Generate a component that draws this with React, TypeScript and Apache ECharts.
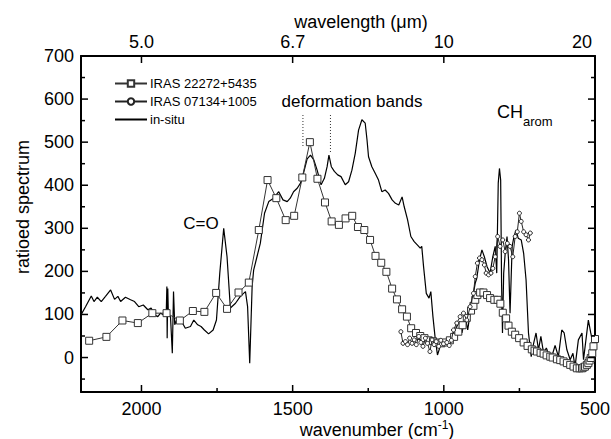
import React, { useEffect, useRef } from "react";
import * as echarts from "echarts";

const FONT = "'Liberation Sans', Arial, sans-serif";

// IRAS 22272+5435 (squares)
const sqWn = [2173, 2116, 2063, 2012, 1964, 1917, 1873, 1830, 1792, 1753, 1717, 1679, 1645, 1612, 1583, 1554, 1523, 1495, 1468, 1443, 1418, 1393, 1371, 1347, 1325, 1303, 1284, 1263, 1244, 1226, 1207, 1190, 1171, 1155, 1138, 1122, 1108, 1092, 1078, 1064, 1050, 1036, 1022, 1008, 994, 980, 966, 952, 938, 924, 910, 902, 896, 889, 880, 869, 857, 847, 833, 822, 813, 805, 794, 786, 775, 764, 751, 736, 723, 709, 700, 692, 680, 670, 660, 648, 640, 626, 615, 604, 593, 582, 571, 560, 551, 543, 538, 533, 527, 522, 518, 514, 509, 505, 500];
const sqVal = [39, 48, 86, 80, 103, 103, 86, 108, 106, 150, 113, 151, 174, 296, 412, 370, 319, 329, 418, 500, 415, 360, 316, 308, 323, 329, 303, 296, 273, 236, 220, 199, 160, 135, 112, 95, 68, 57, 50, 45, 40, 38, 35, 33, 35, 40, 48, 60, 75, 92, 109, 120, 134, 145, 151, 151, 145, 138, 134, 134, 125, 104, 91, 74, 60, 53, 45, 35, 27, 19, 16, 14, 11, 9, 5, 2, 0, -4, -6, -9, -13, -17, -21, -25, -25, -25, -23, -21, -17, -13, -7, -1, 10, 26, 43];

// IRAS 07134+1005 (circles)
const ciWn = [1142, 1135, 1127, 1120, 1113, 1105, 1098, 1091, 1083, 1076, 1069, 1061, 1054, 1046, 1039, 1032, 1025, 1017, 1010, 1001, 990, 982, 975, 968, 957, 946, 935, 924, 913, 902, 896, 889, 882, 874, 866, 860, 852, 844, 838, 830, 822, 814, 805, 797, 790, 781, 772, 764, 757, 750, 744, 736, 728, 720, 714];
const ciVal = [60, 33, 37, 30, 45, 33, 41, 30, 49, 35, 26, 45, 33, 14, 41, 30, 37, 26, 40, 32, 35, 28, 40, 64, 80, 95, 103, 87, 118, 149, 188, 219, 231, 227, 215, 196, 192, 196, 207, 234, 281, 258, 273, 246, 265, 258, 234, 281, 292, 335, 316, 292, 285, 273, 289];

// in-situ
const isWn = [2200, 2185, 2166, 2157, 2146, 2133, 2119, 2102, 2089, 2078, 2069, 2053, 2036, 2023, 2009, 1994, 1979, 1968, 1957, 1946, 1937, 1926, 1918, 1916, 1915, 1913, 1911, 1904, 1898, 1894, 1890, 1882, 1869, 1855, 1838, 1827, 1814, 1803, 1792, 1778, 1763, 1752, 1741, 1728, 1717, 1706, 1689, 1673, 1656, 1649, 1642, 1634, 1629, 1618, 1607, 1593, 1579, 1563, 1546, 1532, 1518, 1508, 1497, 1485, 1474, 1464, 1452, 1441, 1430, 1419, 1406, 1395, 1386, 1380, 1372, 1362, 1351, 1340, 1326, 1315, 1304, 1293, 1282, 1271, 1260, 1254, 1249, 1238, 1227, 1216, 1205, 1194, 1183, 1171, 1160, 1149, 1138, 1131, 1120, 1109, 1098, 1087, 1078, 1073, 1067, 1058, 1049, 1043, 1036, 1028, 1021, 1012, 1001, 990, 979, 968, 957, 948, 940, 929, 921, 913, 904, 896, 891, 882, 874, 866, 857, 847, 838, 830, 825, 820, 816, 812, 809, 806, 802, 797, 791, 786, 781, 774, 768, 761, 754, 744, 736, 728, 720, 711, 703, 695, 687, 679, 670, 661, 654, 643, 632, 621, 610, 602, 593, 582, 573, 566, 555, 543, 538, 530, 522, 514, 505, 500];
const isVal = [99, 118, 143, 130, 140, 130, 142, 157, 135, 142, 130, 140, 134, 130, 118, 122, 111, 115, 99, 95, 103, 99, 105, 165, 45, 160, 100, 95, 10, 153, 76, 91, 86, 68, 72, 87, 76, 72, 64, 55, 64, 87, 196, 300, 234, 115, 126, 142, 153, 118, -13, 165, 203, 234, 265, 335, 362, 370, 385, 366, 362, 370, 385, 393, 405, 428, 461, 470, 459, 435, 401, 416, 443, 470, 443, 432, 424, 420, 401, 408, 435, 474, 528, 552, 544, 505, 466, 443, 428, 412, 385, 389, 381, 366, 358, 354, 373, 350, 320, 281, 269, 261, 254, 258, 211, 149, 138, 153, 95, 41, 6, 26, 33, 33, 45, 57, 72, 84, 57, 95, 64, 103, 142, 173, 184, 227, 250, 234, 211, 196, 234, 258, 196, 405, 439, 412, 173, 57, 196, 242, 281, 227, 103, 258, 281, 296, 277, 273, 242, 180, 57, 2, 33, 57, 18, 49, 10, 22, 10, 2, 28, 2, 64, 57, 18, -5, 10, -21, 41, 57, -5, 41, 87, 57, 26, 2];

// deformation band markers
const bandWn = [1466, 1375];
const bandTop = [563, 563];
const bandBottom = [487, 477];

// axes
const X_MIN = 500;
const X_MAX = 2200;
const Y_MIN = -80;
const Y_MAX = 700;
const xMajor = [2000, 1500, 1000, 500];
const xMinor = [1750, 1250, 750];
const topWn = [2000, 1500, 1000, 500];
const topLabels = ["5.0", "6.7", "10", "20"];
const yMajor = [0, 100, 200, 300, 400, 500, 600, 700];
const yMinor = [-50, 50, 150, 250, 350, 450, 550, 650];

const zip = (a: number[], b: number[]) => a.map((v, i) => [v, b[i]]);

export default function App() {
  const ref = useRef<HTMLDivElement>(null);
  useEffect(() => {
    if (!ref.current) return;
    const chart = echarts.init(ref.current, null, { renderer: "svg" });
    const axisLine = { show: true, onZero: false, lineStyle: { color: "#000", width: 2 } };
    const baseX = { type: "value", min: X_MIN, max: X_MAX, inverse: true, splitLine: { show: false }, axisTick: { show: false } };
    const baseY = { type: "value", min: Y_MIN, max: Y_MAX, splitLine: { show: false }, axisTick: { show: false } };
    const plain = (v: number) => String(v);
    const series: any[] = [
      {
        name: "in-situ",
        type: "line",
        data: zip(isWn, isVal),
        symbol: "none",
        lineStyle: { color: "#000", width: 1.2 },
        itemStyle: { color: "#000" },
        z: 2,
      },
      {
        name: "IRAS 22272+5435",
        type: "line",
        data: zip(sqWn, sqVal),
        symbol: "rect",
        symbolSize: 7,
        lineStyle: { color: "#333", width: 1 },
        itemStyle: { color: "#fff", borderColor: "#333", borderWidth: 1 },
        z: 3,
      },
      {
        name: "IRAS 07134+1005",
        type: "line",
        data: zip(ciWn, ciVal),
        symbol: "circle",
        symbolSize: 4,
        lineStyle: { color: "#222", width: 1 },
        itemStyle: { color: "#fff", borderColor: "#222", borderWidth: 1 },
        z: 4,
      },
    ];
    bandWn.forEach((w, i) => {
      series.push({
        name: "band" + i,
        type: "line",
        data: [
          [w, bandTop[i]],
          [w, bandBottom[i]],
        ],
        symbol: "none",
        silent: true,
        lineStyle: { color: "#333", width: 1, type: [1, 2] },
        z: 1,
      });
    });
    chart.setOption({
      animation: false,
      textStyle: { fontFamily: FONT },
      grid: { left: 81, right: 16, top: 56, bottom: 47, outerBoundsMode: "none" },
      legend: {
        data: [
          { name: "IRAS 22272+5435" },
          { name: "IRAS 07134+1005" },
          { name: "in-situ", itemStyle: { opacity: 0 } },
        ],
        orient: "vertical",
        left: 109,
        top: 72,
        itemWidth: 32,
        itemHeight: 8,
        itemGap: 5,
        textStyle: { fontSize: 13, fontFamily: FONT, color: "#000", padding: [0, 0, 0, -2] },
      },
      xAxis: [
        {
          ...baseX,
          position: "bottom",
          axisLine,
          axisLabel: { customValues: xMajor, fontSize: 18, color: "#000", margin: 8, fontFamily: FONT, formatter: plain },
        },
        {
          ...baseX,
          position: "top",
          axisLine,
          axisLabel: {
            customValues: topWn,
            fontSize: 18,
            color: "#000",
            margin: 5,
            fontFamily: FONT,
            formatter: (v: number) => {
              const i = topWn.indexOf(v);
              const t = i >= 0 ? topLabels[i] : "";
              return v === 500 ? "{s|" + t + "}" : t;
            },
            rich: { s: { fontSize: 18, fontFamily: FONT, color: "#000", padding: [0, 26, 0, 0] } },
          },
        },
      ],
      yAxis: [
        {
          ...baseY,
          position: "left",
          axisLine,
          axisLabel: { customValues: yMajor, fontSize: 18, color: "#000", margin: 7, fontFamily: FONT, formatter: plain },
        },
        {
          ...baseY,
          position: "right",
          axisLine,
          axisLabel: { show: false },
        },
      ],
      series,
    });

    // tick marks, positioned through the chart's own axis scales
    const px = (wn: number, v: number) => chart.convertToPixel({ xAxisIndex: 0, yAxisIndex: 0 }, [wn, v]) as number[];
    const left = px(X_MAX, 0)[0];
    const right = px(X_MIN, 0)[0];
    const top = px(X_MAX, Y_MAX)[1];
    const bottom = px(X_MAX, Y_MIN)[1];
    const tickLine = (x1: number, y1: number, x2: number, y2: number) => ({
      type: "line",
      silent: true,
      z: 100,
      shape: { x1, y1, x2, y2 },
      style: { stroke: "#000", lineWidth: 1.5 },
    });
    const ticks: any[] = [];
    const MAJ = 7;
    const MIN = 4;
    xMajor.forEach((w) => {
      const x = px(w, 0)[0];
      ticks.push(tickLine(x, bottom, x, bottom - MAJ));
    });
    xMinor.forEach((w) => {
      const x = px(w, 0)[0];
      ticks.push(tickLine(x, bottom, x, bottom - MIN));
    });
    topWn.forEach((w) => {
      const x = px(w, 0)[0];
      ticks.push(tickLine(x, top, x, top + MAJ));
    });
    yMajor.forEach((v) => {
      const y = px(X_MAX, v)[1];
      ticks.push(tickLine(left, y, left + MAJ, y));
      ticks.push(tickLine(right, y, right - MAJ, y));
    });
    yMinor.forEach((v) => {
      const y = px(X_MAX, v)[1];
      ticks.push(tickLine(left, y, left + MIN, y));
      ticks.push(tickLine(right, y, right - MIN, y));
    });

    const texts: any[] = [
      {
        type: "text",
        x: 361,
        y: 22,
        style: { text: "wavelength (μm)", fontSize: 18, fontFamily: FONT, fill: "#000", align: "center", verticalAlign: "middle" },
      },
      {
        type: "text",
        x: 377,
        y: 429,
        style: {
          text: "{n|wavenumber (cm}{s|-1}{n|)}",
          fontFamily: FONT,
          fill: "#000",
          align: "center",
          verticalAlign: "middle",
          rich: {
            n: { fontSize: 18, fontFamily: FONT, fill: "#000", lineHeight: 20, verticalAlign: "bottom" },
            s: { fontSize: 12, fontFamily: FONT, fill: "#000", lineHeight: 20, verticalAlign: "top" },
          },
        },
      },
      {
        type: "text",
        x: 23,
        y: 207,
        rotation: Math.PI / 2,
        style: { text: "ratioed spectrum", fontSize: 18, fontFamily: FONT, fill: "#000", align: "center", verticalAlign: "middle" },
      },
      {
        type: "text",
        x: 352,
        y: 101,
        style: { text: "deformation bands", fontSize: 17, fontFamily: FONT, fill: "#000", align: "center", verticalAlign: "middle" },
      },
      {
        type: "text",
        x: 201,
        y: 223,
        style: { text: "C=O", fontSize: 17, fontFamily: FONT, fill: "#000", align: "center", verticalAlign: "middle" },
      },
      {
        type: "text",
        x: 497,
        y: 112,
        style: { text: "CH", fontSize: 18, fontFamily: FONT, fill: "#000", align: "left", verticalAlign: "middle" },
      },
      {
        type: "text",
        x: 523,
        y: 121,
        style: { text: "arom", fontSize: 13, fontFamily: FONT, fill: "#000", align: "left", verticalAlign: "middle" },
      },
    ];
    chart.setOption({ graphic: [...texts, ...ticks] });
    return () => chart.dispose();
  }, []);
  return <div ref={ref} style={{ position: "fixed", left: 0, top: 0, width: 611, height: 439, background: "#fff" }} />;
}
